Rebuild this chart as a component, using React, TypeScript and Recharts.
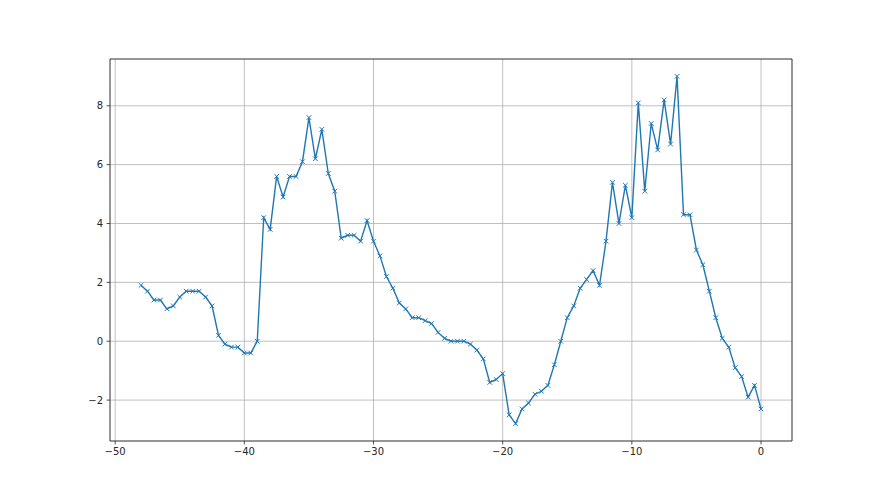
import React from 'react';
import { CartesianGrid, Line, LineChart, ReferenceArea, XAxis, YAxis } from 'recharts';

const xValues = [
  -48, -47.5, -47, -46.5, -46, -45.5, -45, -44.5, -44, -43.5,
  -43, -42.5, -42, -41.5, -41, -40.5, -40, -39.5, -39, -38.5,
  -38, -37.5, -37, -36.5, -36, -35.5, -35, -34.5, -34, -33.5,
  -33, -32.5, -32, -31.5, -31, -30.5, -30, -29.5, -29, -28.5,
  -28, -27.5, -27, -26.5, -26, -25.5, -25, -24.5, -24, -23.5,
  -23, -22.5, -22, -21.5, -21, -20.5, -20, -19.5, -19, -18.5,
  -18, -17.5, -17, -16.5, -16, -15.5, -15, -14.5, -14, -13.5,
  -13, -12.5, -12, -11.5, -11, -10.5, -10, -9.5, -9, -8.5,
  -8, -7.5, -7, -6.5, -6, -5.5, -5, -4.5, -4, -3.5,
  -3, -2.5, -2, -1.5, -1, -0.5, 0,
];

const yValues = [
  1.9, 1.7, 1.4, 1.4, 1.1, 1.2, 1.5, 1.7, 1.7, 1.7,
  1.5, 1.2, 0.2, -0.1, -0.2, -0.2, -0.4, -0.4, 0.0, 4.2,
  3.8, 5.6, 4.9, 5.6, 5.6, 6.1, 7.6, 6.2, 7.2, 5.7,
  5.1, 3.5, 3.6, 3.6, 3.4, 4.1, 3.4, 2.9, 2.2, 1.8,
  1.3, 1.1, 0.8, 0.8, 0.7, 0.6, 0.3, 0.1, 0.0, 0.0,
  0.0, -0.1, -0.3, -0.6, -1.4, -1.3, -1.1, -2.5, -2.8, -2.3,
  -2.1, -1.8, -1.7, -1.5, -0.8, 0.0, 0.8, 1.2, 1.8, 2.1,
  2.4, 1.9, 3.4, 5.4, 4.0, 5.3, 4.2, 8.1, 5.1, 7.4,
  6.5, 8.2, 6.7, 9.0, 4.3, 4.3, 3.1, 2.6, 1.7, 0.8,
  0.1, -0.2, -0.9, -1.2, -1.9, -1.5, -2.3,
];

const xTicks = [-50, -40, -30, -20, -10, 0];
const yTicks = [-2, 0, 2, 4, 6, 8];

const xDomain: [number, number] = [-50.4, 2.4];
const yDomain: [number, number] = [-3.39, 9.59];

const data = xValues.map((x, i) => ({ x, y: yValues[i] }));

const fmt = (v: number) => (v < 0 ? `\u2212${-v}` : `${v}`);

const tickStyle = { fill: '#262626', fontSize: 10, fontFamily: 'DejaVu Sans' };

const BLUE = '#1f77b4';

function XMark(props: any) {
  const { cx, cy, index } = props;
  if (cx == null || cy == null) return <g key={index} />;
  const s = 2.3;
  return (
    <path
      key={index}
      d={`M${cx - s},${cy - s}L${cx + s},${cy + s}M${cx - s},${cy + s}L${cx + s},${cy - s}`}
      stroke={BLUE}
      strokeWidth={1}
      fill="none"
    />
  );
}

export default function App() {
  return (
    <div style={{ position: 'absolute', left: 0, top: 0, width: 880, height: 495, background: '#fff' }}>
      <LineChart width={880} height={495} data={data} margin={{ top: 59, right: 88, left: 70, bottom: 24 }}>
        <CartesianGrid stroke="#b0b0b0" strokeWidth={0.8} />
        <XAxis
          dataKey="x"
          type="number"
          domain={xDomain}
          ticks={xTicks}
          tickFormatter={fmt}
          tick={tickStyle}
          tickSize={3.5}
          tickMargin={3.5}
          tickLine={{ stroke: '#262626', strokeWidth: 0.8 }}
          axisLine={false}
          height={30}
          allowDataOverflow
        />
        <YAxis
          type="number"
          domain={yDomain}
          ticks={yTicks}
          tickFormatter={fmt}
          tick={tickStyle}
          tickSize={3.5}
          tickMargin={3.5}
          tickLine={{ stroke: '#262626', strokeWidth: 0.8 }}
          axisLine={false}
          width={40}
          allowDataOverflow
        />
        <ReferenceArea
          x1={xDomain[0]}
          x2={xDomain[1]}
          y1={yDomain[0]}
          y2={yDomain[1]}
          fill="none"
          stroke="#262626"
          strokeWidth={0.8}
        />
        <Line
          type="linear"
          dataKey="y"
          stroke={BLUE}
          strokeWidth={1.4}
          dot={XMark}
          activeDot={false}
          isAnimationActive={false}
        />
      </LineChart>
    </div>
  );
}
